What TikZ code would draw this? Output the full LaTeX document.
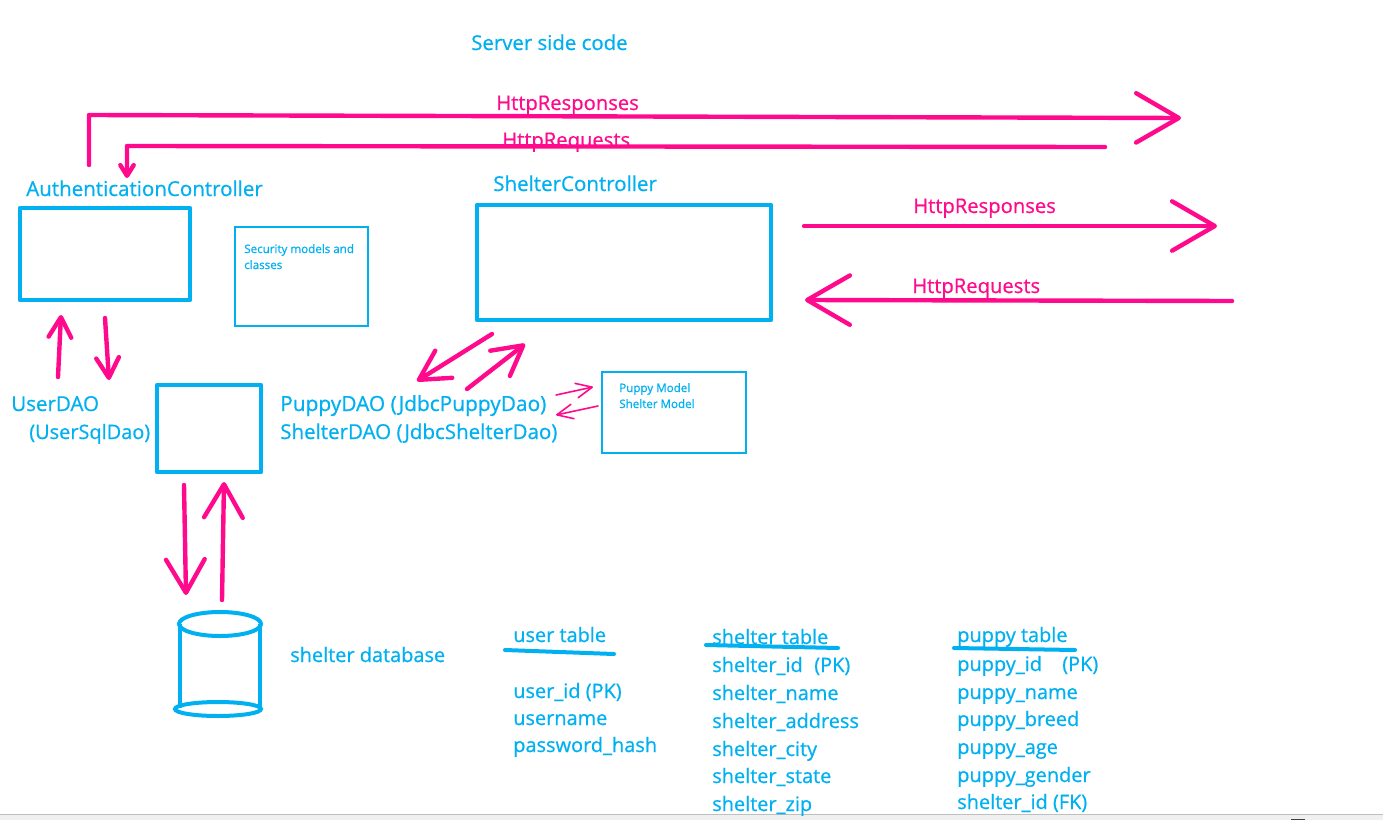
\documentclass[tikz,border=0pt]{standalone}
\usepackage{fontspec}
\setmainfont{Open Sans}
\newfontfamily\penfont[FakeBold=0.7]{Open Sans}
\usetikzlibrary{arrows.meta}
\definecolor{penblue}{HTML}{00B0F0}
\definecolor{penpink}{HTML}{FF0A8C}
\tikzset{
    bluetext/.style={text=penblue, font=\penfont\fontsize{14.95pt}{16pt}\selectfont, anchor=base west, inner sep=0pt},
    widetext/.style={bluetext, font=\penfont\fontsize{15.4pt}{16pt}\selectfont},
    pinktext/.style={bluetext, text=penpink, font=\penfont\fontsize{15.15pt}{16pt}\selectfont},
    smalltext/.style={text=penblue, font=\penfont\fontsize{8.7pt}{10pt}\selectfont, anchor=base west, inner sep=0pt},
    thickbox/.style={draw=penblue, line width=3.6pt, inner sep=0pt, line join=round},
    thinbox/.style={draw=penblue, line width=1.6pt, inner sep=0pt},
    penline/.style={draw=penpink, line width=3.3pt, line cap=round, line join=round},
    bigarrow/.style={penline, -{Straight Barb[length=32pt, width=37pt, round]}},
    midarrow/.style={penline, -{Straight Barb[length=15pt, width=17pt, round]}},
    tinyarrow/.style={draw=penpink, line width=1.2pt, line cap=round, -{Straight Barb[length=12pt, width=11pt, round]}},
    underline/.style={draw=penblue, line width=3pt, line cap=round}
}
\begin{document}
\begin{tikzpicture}[x=0.75pt, y=-0.75pt]
    \useasboundingbox (0,0) rectangle (1383,820);
    % window edge
    \fill[black!6] (0,815) rectangle (1383,820);
    \draw[black!25, line width=0.75pt] (0,814.5) -- (1383,814.5);
    \fill[black!75] (1291,818.5) rectangle (1305,820);

    \node[bluetext, font=\penfont\fontsize{15.3pt}{16pt}\selectfont] (title) at (471,50) {Server side code};

    % boxes
    \node[thickbox, minimum width=127.5pt, minimum height=69pt] (authBox) at (105,254) {};
    \node[thinbox, minimum width=99.75pt, minimum height=74.25pt] (securityBox) at (301.5,276.5) {};
    \node[thickbox, minimum width=220.5pt, minimum height=86.25pt] (shelterBox) at (624,262.5) {};
    \node[thickbox, minimum width=78pt, minimum height=65.25pt] (daoBox) at (209,428.5) {};
    \node[thinbox, minimum width=108pt, minimum height=60.75pt] (modelBox) at (674,412.5) {};

    \node[widetext] (authLabel) at (26,196) {AuthenticationController};
    \node[widetext] (shelterLabel) at (493,191) {ShelterController};
    \node[smalltext] (securityA) at (244,253) {Security models and};
    \node[smalltext] (securityB) at (244,269) {classes};
    \node[smalltext] (modelA) at (619,392) {Puppy Model};
    \node[smalltext] (modelB) at (619,408) {Shelter Model};
    \node[widetext] (userDao) at (11,411) {UserDAO};
    \node[bluetext] (userSql) at (29,439) {(UserSqlDao)};
    \node[widetext, font=\penfont\fontsize{15.65pt}{16pt}\selectfont] (puppyDao) at (280,411) {PuppyDAO (JdbcPuppyDao)};
    \node[widetext] (shelterDao) at (280,439) {ShelterDAO (JdbcShelterDao)};

    % top http lines
    \coordinate (topRespA) at (89,165);
    \coordinate (topRespB) at (89,115);
    \coordinate (topRespC) at (1181,118);
    \coordinate (topReqA) at (1105,147);
    \coordinate (topReqB) at (127,146);
    \coordinate (topReqC) at (127,178);
    \draw[bigarrow] (topRespA) -- (topRespB) -- (topRespC);
    \draw[penline, -{Straight Barb[length=8pt, width=10pt, round]}] (topReqA) -- (topReqB) -- (topReqC);
    \node[pinktext] (topRespText) at (496,110) {HttpResponses};
    \node[pinktext] (topReqText) at (502,147) {HttpRequests};

    % shelter http lines
    \coordinate (respA) at (804,226);
    \coordinate (respB) at (1217,226);
    \coordinate (reqA) at (1232,301);
    \coordinate (reqB) at (805,300);
    \draw[bigarrow] (respA) -- (respB);
    \draw[bigarrow] (reqA) -- (reqB);
    \node[pinktext] (respText) at (913,213) {HttpResponses};
    \node[pinktext] (reqText) at (912,293) {HttpRequests};

    % auth to dao
    \coordinate (authUpA) at (58,377);
    \coordinate (authUpB) at (61,315);
    \coordinate (authDownA) at (105,318);
    \coordinate (authDownB) at (109,380);
    \draw[midarrow] (authUpA) -- (authUpB);
    \draw[midarrow] (authDownA) -- (authDownB);

    % shelter to dao
    \coordinate (shelterDownA) at (492,334);
    \coordinate (shelterDownB) at (417,381);
    \coordinate (shelterUpA) at (467,389);
    \coordinate (shelterUpB) at (525,344);
    \draw[penline, -{Straight Barb[length=22pt, width=24pt, round]}] (shelterDownA) -- (shelterDownB);
    \draw[penline, -{Straight Barb[length=22pt, width=24pt, round]}] (shelterUpA) -- (shelterUpB);

    % dao to model
    \coordinate (modelInA) at (556,395);
    \coordinate (modelInB) at (593,387);
    \coordinate (modelOutA) at (598,406);
    \coordinate (modelOutB) at (556,415);
    \draw[tinyarrow] (modelInA) -- (modelInB);
    \draw[tinyarrow] (modelOutA) -- (modelOutB);

    % dao to database
    \coordinate (dbDownA) at (184,485);
    \coordinate (dbDownB) at (186,595);
    \coordinate (dbUpA) at (222,600);
    \coordinate (dbUpB) at (224,482);
    \draw[penline, -{Straight Barb[length=25pt, width=29pt, round]}] (dbDownA) -- (dbDownB);
    \draw[penline, -{Straight Barb[length=25pt, width=29pt, round]}] (dbUpA) -- (dbUpB);

    % database
    \draw[draw=penblue, line width=3pt] (220,624) ellipse (41 and 12);
    \draw[draw=penblue, line width=3pt] (218,709) ellipse (43 and 7);
    \draw[draw=penblue, line width=3pt] (180,624) -- (180,708);
    \draw[draw=penblue, line width=3pt] (260,624) -- (260,708);
    \node[bluetext] (dbLabel) at (290,662) {shelter database};

    % user table
    \node[bluetext] (userTable) at (513,642) {user table};
    \draw[underline] (505,650) -- (614,654);
    \node[bluetext] (userId) at (513,698) {user\_id (PK)};
    \node[bluetext] (userName) at (513,725) {username};
    \node[bluetext] (userHash) at (513,752) {password\_hash};

    % shelter table
    \node[bluetext] (shelterTable) at (712,644) {shelter table};
    \draw[underline] (706,645) -- (838,648);
    \node[bluetext] (shelterId) at (712,672) {shelter\_id};
    \node[bluetext] (shelterPk) at (814,672) {(PK)};
    \node[bluetext] (shelterName) at (712,700) {shelter\_name};
    \node[bluetext] (shelterAddress) at (712,728) {shelter\_address};
    \node[bluetext] (shelterCity) at (712,756) {shelter\_city};
    \node[bluetext] (shelterState) at (712,783) {shelter\_state};
    \node[bluetext] (shelterZip) at (712,811) {shelter\_zip};

    % puppy table
    \node[bluetext] (puppyTable) at (957,642) {puppy table};
    \draw[underline] (954,648) -- (1075,650);
    \node[bluetext] (puppyId) at (957,671) {puppy\_id};
    \node[bluetext] (puppyPk) at (1062,671) {(PK)};
    \node[bluetext] (puppyName) at (957,699) {puppy\_name};
    \node[bluetext] (puppyBreed) at (957,726) {puppy\_breed};
    \node[bluetext] (puppyAge) at (957,754) {puppy\_age};
    \node[bluetext] (puppyGender) at (957,782) {puppy\_gender};
    \node[bluetext] (puppyFk) at (957,809) {shelter\_id (FK)};
\end{tikzpicture}
\end{document}
